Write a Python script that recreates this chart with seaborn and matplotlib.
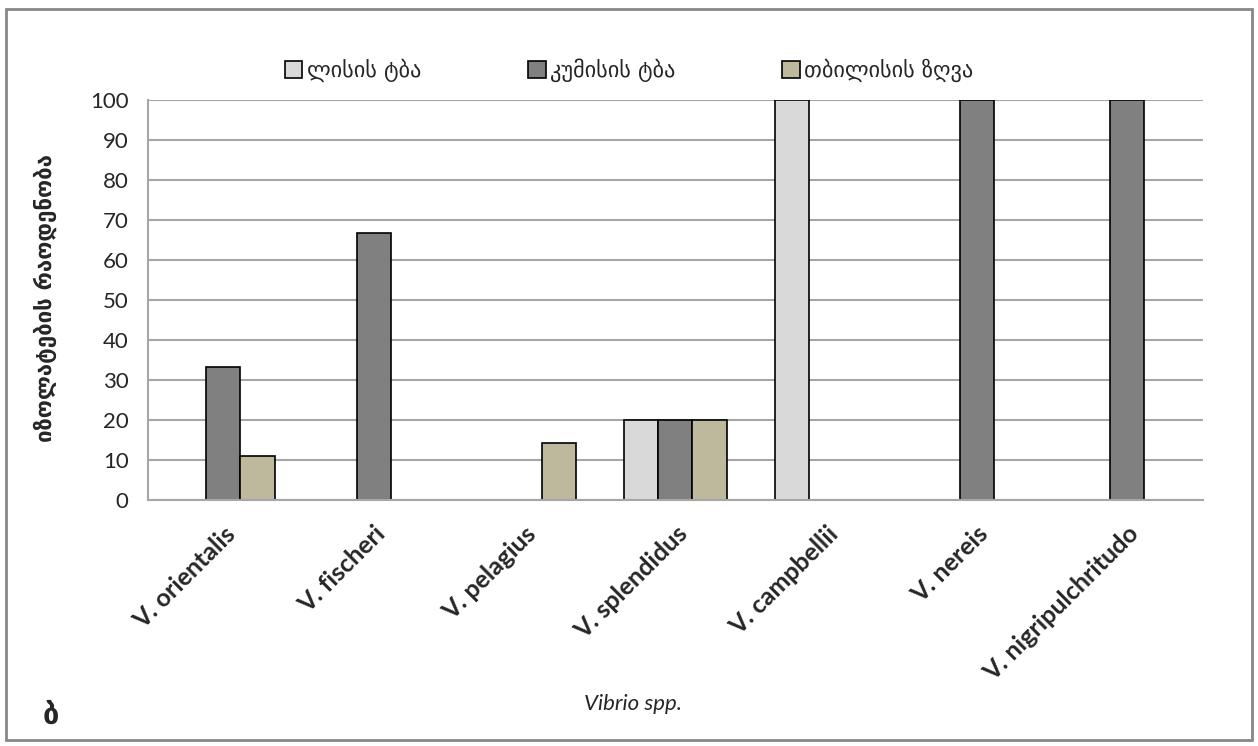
import pandas as pd
import numpy as np
import matplotlib
matplotlib.use("Agg")
import matplotlib.pyplot as plt
import seaborn as sns
from matplotlib.patches import Rectangle

# Data
species = ["V. orientalis", "V. fischeri", "V. pelagius", "V. splendidus",
           "V. campbellii", "V. nereis", "V. nigripulchritudo"]
lisi = [None, None, None, 20, 100, None, None]
kumisi = [33.3, 66.7, None, 20, None, 100, 100]
tbilisi = [11.1, None, 14.3, 20, None, None, None]
series_names = ["ლისის ტბა", "კუმისის ტბა", "თბილისის ზღვა"]
colors = ["#D9D9D9", "#808080", "#C4BD97"]

rows = []
for name, vals in zip(series_names, [lisi, kumisi, tbilisi]):
    for sp, v in zip(species, vals):
        rows.append({"Species": sp, "Lake": name, "Value": np.nan if v is None else v})
df = pd.DataFrame(rows)

sns.set_style("white")
plt.rcParams["font.family"] = ["Lato", "DejaVu Sans"]

fig = plt.figure(figsize=(12.58, 7.46), dpi=100)
ax = fig.add_axes([0.1176, 0.3298, 0.8384, 0.5362])

sns.barplot(data=df, x="Species", y="Value", hue="Lake", order=species,
            hue_order=series_names, palette=colors, width=0.68,
            edgecolor="black", linewidth=1.2, ax=ax, legend=True)

ax.set_ylim(0, 100)
ax.set_xlim(-0.5, len(species) - 0.5)
ax.set_yticks(range(0, 101, 10))
ax.yaxis.grid(True, color="#A6A6A6", linewidth=1.5)
ax.set_axisbelow(True)
for s in ["top", "right"]:
    ax.spines[s].set_visible(False)
for s in ["left", "bottom"]:
    ax.spines[s].set_color("#A6A6A6")
    ax.spines[s].set_linewidth(1.5)
ax.tick_params(axis="y", length=6, color="#A6A6A6", width=1.2, labelsize=16, pad=8)
ax.tick_params(axis="x", length=0, pad=16)
ax.set_xticks(range(len(species)))
ax.set_xticklabels(species, rotation=45, ha="right", rotation_mode="anchor",
                   fontsize=18, fontweight="bold")
ax.set_xlabel("")
ax.set_ylabel("")

handles, labels = ax.get_legend_handles_labels()
ax.get_legend().remove()
fig.legend(handles, labels, loc="center", bbox_to_anchor=(0.5, 0.906), ncol=3,
           frameon=False, handlelength=0.8, handleheight=0.8,
           handletextpad=0.2, columnspacing=4.8,
           prop={"family": ["DejaVu Sans"], "size": 16})

fig.text(0.036, 0.6, "იზოლატების რაოდენობა", rotation=90, ha="center", va="center",
         fontsize=16, fontweight="bold", family=["DejaVu Sans"])
fig.text(0.503, 0.056, "Vibrio spp.", ha="center", va="center", fontsize=16,
         style="italic")
fig.text(0.034, 0.04, "ბ", ha="left", va="center", fontsize=21, fontweight="bold",
         family=["DejaVu Sans"])

fig.patches.append(Rectangle((0.005, 0.008), 0.99, 0.98, transform=fig.transFigure,
                             fill=False, edgecolor="#888888", linewidth=2))

fig.savefig("out.png", dpi=100)
